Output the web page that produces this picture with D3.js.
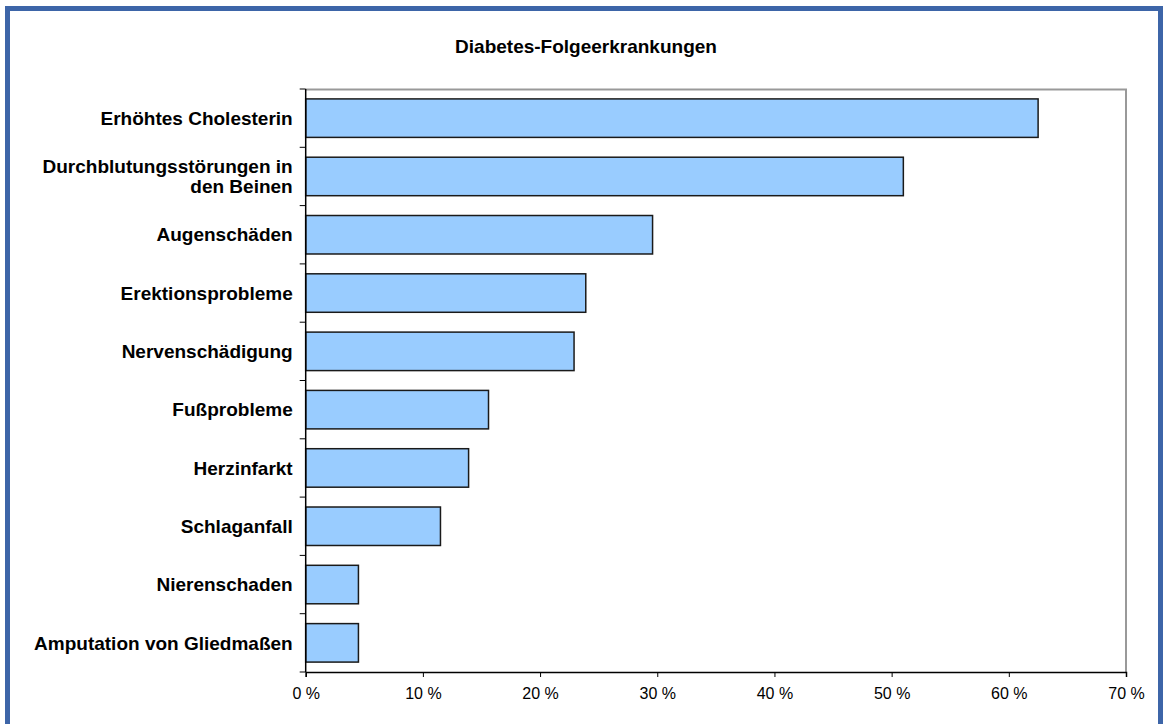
<!DOCTYPE html>
<html>
<head>
<meta charset="utf-8">
<script src="https://cdn.jsdelivr.net/npm/d3@7"></script>
<style>
  body { margin: 0; background: #fff; }
  text { font-family: "Liberation Sans", Arial, sans-serif; }
</style>
</head>
<body>
<svg id="chart" width="1163" height="724"></svg>
<script>
// Daten
const categories = [
  "Erhöhtes Cholesterin",
  "Durchblutungsstörungen in den Beinen",
  "Augenschäden",
  "Erektionsprobleme",
  "Nervenschädigung",
  "Fußprobleme",
  "Herzinfarkt",
  "Schlaganfall",
  "Nierenschaden",
  "Amputation von Gliedmaßen"
];
const values = [62.5, 51.0, 29.6, 23.9, 22.9, 15.6, 13.9, 11.5, 4.5, 4.5];
const tickValues = [0, 10, 20, 30, 40, 50, 60, 70];
// Zeilenumbruch der Beschriftungen wie im Original
const labelLines = {
  "Durchblutungsstörungen in den Beinen": ["Durchblutungsstörungen in", "den Beinen"]
};

const svg = d3.select("#chart");
const margin = { top: 89, right: 37, bottom: 52, left: 305.7 };
const width = 1163 - margin.left - margin.right;
const height = 724 - margin.top - margin.bottom;

// blauer Rahmen
svg.append("rect")
  .attr("x", 7.5).attr("y", 8.5)
  .attr("width", 1153).attr("height", 730)
  .attr("fill", "none")
  .attr("stroke", "#3d65a8")
  .attr("stroke-width", 5);

// Titel
svg.append("text")
  .attr("x", 586).attr("y", 53)
  .attr("text-anchor", "middle")
  .attr("font-size", "19px")
  .attr("font-weight", "bold")
  .attr("fill", "#000")
  .text("Diabetes-Folgeerkrankungen");

const g = svg.append("g").attr("transform", `translate(${margin.left},${margin.top})`);

const x = d3.scaleLinear().domain([0, 70]).range([0, width]);
const y = d3.scaleBand().domain(categories).range([0, height])
  .paddingInner(0.34).paddingOuter(0.17);

// Plotrahmen oben/rechts grau
g.append("path")
  .attr("d", `M0,0.5H${width}V${height}`)
  .attr("fill", "none")
  .attr("stroke", "#999")
  .attr("stroke-width", 2);

// Balken
g.selectAll(".bar")
  .data(categories)
  .enter().append("rect")
  .attr("class", "bar")
  .attr("x", x(0))
  .attr("y", d => y(d))
  .attr("width", (d, i) => x(values[i]) - x(0))
  .attr("height", y.bandwidth())
  .attr("fill", "#99ccff")
  .attr("stroke", "#1a1a1a")
  .attr("stroke-width", 1.5);

// x-Achse
const xAxis = d3.axisBottom(x)
  .tickValues(tickValues)
  .tickSize(5)
  .tickPadding(11)
  .tickFormat(d => d + " %");

g.append("g")
  .attr("transform", `translate(0,${height})`)
  .call(xAxis)
  .call(a => {
    a.select(".domain").attr("stroke", "#000").attr("stroke-width", 1.5);
    a.selectAll(".tick line").attr("stroke", "#000");
    a.selectAll(".tick text")
      .attr("font-size", "16px")
      .attr("fill", "#000")
      .style("font-family", "'Liberation Sans', Arial, sans-serif");
  });

// y-Achse: Linie und Teilstriche an den Kategoriegrenzen
g.append("line")
  .attr("x1", 0).attr("x2", 0)
  .attr("y1", 0).attr("y2", height)
  .attr("stroke", "#000").attr("stroke-width", 1.5);

g.selectAll(".ytick")
  .data(d3.range(categories.length + 1))
  .enter().append("line")
  .attr("class", "ytick")
  .attr("x1", -6).attr("x2", 0)
  .attr("y1", i => i * y.step())
  .attr("y2", i => i * y.step())
  .attr("stroke", "#000");

// Beschriftungen
const labels = g.selectAll(".ylabel")
  .data(categories)
  .enter().append("text")
  .attr("class", "ylabel")
  .attr("text-anchor", "end")
  .attr("font-size", "19px")
  .attr("font-weight", "bold")
  .attr("fill", "#000")
  .attr("x", -13)
  .attr("y", d => y(d) + y.bandwidth() / 2);

labels.each(function(d) {
  const lines = labelLines[d] || [d];
  const t = d3.select(this);
  const lh = 20;
  lines.forEach((ln, i) => {
    t.append("tspan")
      .attr("x", -13)
      .attr("y", y(d) + y.bandwidth() / 2 + (i - (lines.length - 1) / 2) * lh)
      .attr("dy", "0.35em")
      .text(ln);
  });
});
</script>
</body>
</html>
